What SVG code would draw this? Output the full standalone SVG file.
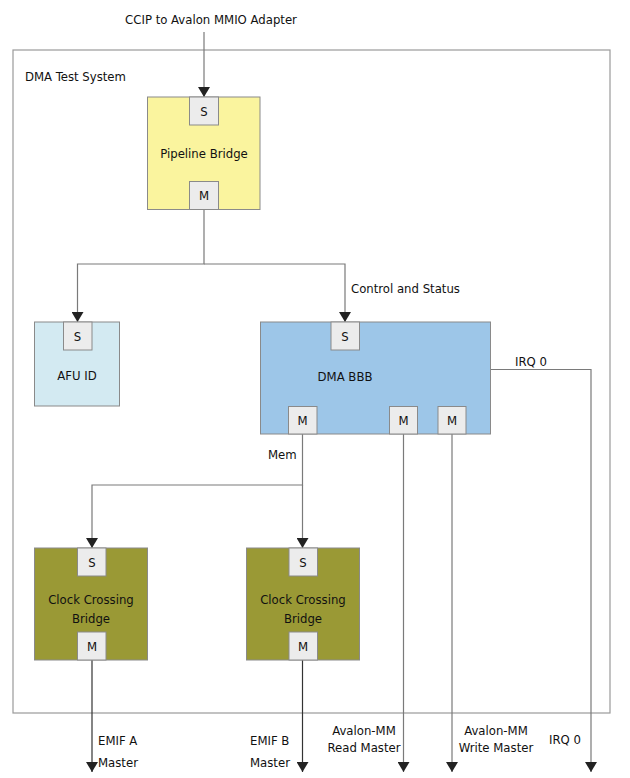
<svg xmlns="http://www.w3.org/2000/svg" width="630" height="778" viewBox="0 0 630 778">
<defs>
<marker id="arr" markerWidth="10" markerHeight="12" refX="10" refY="6" orient="auto" markerUnits="userSpaceOnUse" viewBox="0 0 10 12">
<path d="M0,0 L10,6 L0,12 Z" fill="#222"/>
</marker>
<style>
text{font-family:"Liberation Sans Narrow","DejaVu Sans Condensed","Liberation Sans",sans-serif;font-size:13px;fill:#111}
.c{text-anchor:middle}
.box{stroke:#8a8a8a;stroke-width:1}
.port{fill:#ececec;stroke:#8a8a8a;stroke-width:1}
.ln{fill:none;stroke:#7a7a7a;stroke-width:1.2}
.dk{fill:none;stroke:#333;stroke-width:1.2}
</style>
</defs>
<rect width="630" height="778" fill="#fff"/>
<g id="frame">
<rect x="13" y="50" width="597" height="663" fill="none" stroke="#9a9a9a" stroke-width="1.2"/>
<text x="25" y="81">DMA Test System</text>
</g>
<text class="c" x="211" y="24">CCIP to Avalon MMIO Adapter</text>
<g id="connectors">
<path class="ln" d="M204,32 V97" marker-end="url(#arr)"/>
<path class="ln" d="M204,210 V264 H77.5 V322" marker-end="url(#arr)"/>
<path class="ln" d="M204,264 H345 V322" marker-end="url(#arr)"/>
<path class="ln" d="M302.5,434 V485 H92 V548" marker-end="url(#arr)"/>
<path class="ln" d="M302.5,485 V548" marker-end="url(#arr)"/>
<path class="ln" d="M403.5,434 V772" marker-end="url(#arr)"/>
<path class="ln" d="M452,434 V772" marker-end="url(#arr)"/>
<path class="ln" d="M490,369.5 H591 V772" marker-end="url(#arr)"/>
<path class="dk" d="M92,660 V772" marker-end="url(#arr)"/>
<path class="dk" d="M302.5,660 V772" marker-end="url(#arr)"/>
<text x="351" y="293">Control and Status</text>
<text x="268" y="459">Mem</text>
<text x="515" y="366">IRQ 0</text>
<text x="98" y="745">EMIF A</text>
<text x="98" y="767">Master</text>
<text x="250" y="745">EMIF B</text>
<text x="250" y="767">Master</text>
<text class="c" x="364" y="735">Avalon-MM</text>
<text class="c" x="364" y="752">Read Master</text>
<text class="c" x="496" y="735">Avalon-MM</text>
<text class="c" x="496" y="752">Write Master</text>
<text x="549" y="744">IRQ 0</text>
</g>
<g id="pipeline">
<rect class="box" x="147.5" y="97" width="112.5" height="112.5" fill="#faf49e"/>
<rect class="port" x="189.5" y="97" width="29" height="28"/>
<text class="c" x="204" y="116">S</text>
<rect class="port" x="189.5" y="181.5" width="29" height="28"/>
<text class="c" x="204" y="200">M</text>
<text class="c" x="204" y="158">Pipeline Bridge</text>
</g>
<g id="afuid">
<rect class="box" x="34.5" y="322" width="85" height="84" fill="#d3eaf2"/>
<rect class="port" x="63.5" y="322" width="28.5" height="28"/>
<text class="c" x="77.5" y="341">S</text>
<text class="c" x="77" y="380">AFU ID</text>
</g>
<g id="dmabbb">
<rect class="box" x="260.5" y="322" width="230" height="112" fill="#9dc6e8"/>
<rect class="port" x="331" y="322" width="28.5" height="28"/>
<text class="c" x="345" y="341">S</text>
<text class="c" x="345" y="381">DMA BBB</text>
<rect class="port" x="288.5" y="406.5" width="28.5" height="27.5"/>
<text class="c" x="302.5" y="425">M</text>
<rect class="port" x="389.5" y="406.5" width="28" height="27.5"/>
<text class="c" x="403.5" y="425">M</text>
<rect class="port" x="438" y="406.5" width="28" height="27.5"/>
<text class="c" x="452" y="425">M</text>
</g>
<g id="ccb_a">
<rect class="box" x="34.5" y="548" width="113" height="112" fill="#9a9935"/>
<rect class="port" x="77.5" y="548" width="28.5" height="28"/>
<text class="c" x="92" y="567">S</text>
<text class="c" x="91" y="604">Clock Crossing</text>
<text class="c" x="91" y="623">Bridge</text>
<rect class="port" x="77.5" y="632" width="28.5" height="28"/>
<text class="c" x="92" y="651">M</text>
</g>
<g id="ccb_b">
<rect class="box" x="246.5" y="548" width="113" height="112" fill="#9a9935"/>
<rect class="port" x="289" y="548" width="28.5" height="28"/>
<text class="c" x="303" y="567">S</text>
<text class="c" x="303" y="604">Clock Crossing</text>
<text class="c" x="303" y="623">Bridge</text>
<rect class="port" x="289" y="632" width="28.5" height="28"/>
<text class="c" x="303" y="651">M</text>
</g>
</svg>
